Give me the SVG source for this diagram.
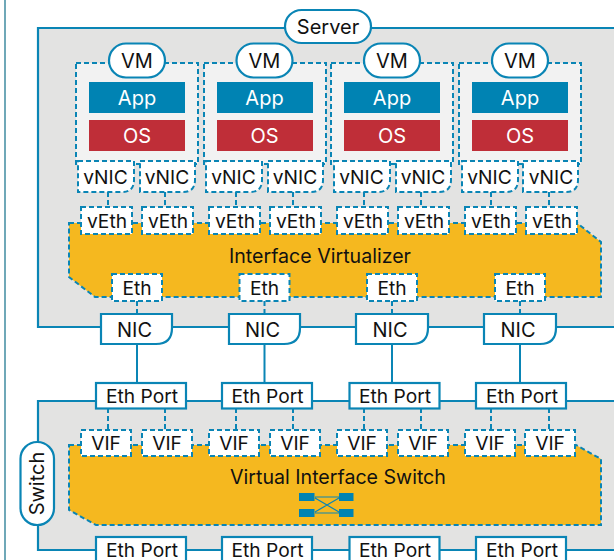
<svg xmlns="http://www.w3.org/2000/svg" width="614" height="560" viewBox="0 0 614 560">
<style>
text{font-family:"Inter","Liberation Sans",Arial,sans-serif;font-size:19.200px;fill:#111;text-anchor:middle}
.b{font-size:19.600px}
.m{font-size:20px}
.w{fill:#fff}
.s{fill:#fff;stroke:#0a85b5;stroke-width:2.200}
.p{fill:#e3e3e2;stroke:#0a85b5;stroke-width:2.200}
.d{fill:#fff;stroke:#0a85b5;stroke-width:2;stroke-dasharray:5 3}
.vm{fill:#f2f2f2;stroke:#0a85b5;stroke-width:2;stroke-dasharray:5 3}
.o{fill:#f5b81f;stroke:#0a85b5;stroke-width:2;stroke-dasharray:5 3}
.l{fill:none;stroke:#0a85b5;stroke-width:2}
.ld{fill:none;stroke:#0a85b5;stroke-width:2;stroke-dasharray:5 3}
.app{fill:#0083b3}.os{fill:#bf2e38}
</style>
<rect width="614" height="560" fill="#fff"/>
<path d="M5 0V560" fill="none" stroke="#6fa8b8" stroke-width="2"/>
<g id="server-frame"><path class="p" d="M616 28H38V327H616"/></g>
<g id="switch-frame"><path class="p" d="M616 401H38V550H616"/></g>
<g id="connectors">
<path class="l" d="M137 344V384M264.500 344V384M392 344V384M520 344V384"/>
<path class="ld" d="M108 192V207M165 192V207M236 192V207M293 192V207M364 192V207M421 192V207M491 192V207M549 192V207"/>
<path class="ld" d="M137 301V314M264.500 301V314M392 301V314M520 301V314"/>
<path class="ld" d="M108 408V430M165 408V430M236 408V430M293 408V430M364 408V430M421 408V430M491 408V430M549 408V430"/>
</g>
<g id="server"><rect class="s" x="285" y="10" width="86" height="33" rx="16.500"/><text class="m" x="328" y="33.500">Server</text></g>
<g id="vm1"><rect class="vm" x="76" y="63" width="122" height="101"/><rect class="s" x="109" y="43.500" width="56" height="34" rx="17"/><text class="m" x="137" y="67.500">VM</text><rect class="app" x="89" y="82" width="96" height="31"/><text class="w m" x="137" y="104.500">App</text><rect class="os" x="89" y="120" width="96" height="31"/><text class="w m" x="137" y="142.500">OS</text></g>
<g id="vm2"><rect class="vm" x="204" y="63" width="122" height="101"/><rect class="s" x="236.500" y="43.500" width="56" height="34" rx="17"/><text class="m" x="264.500" y="67.500">VM</text><rect class="app" x="217" y="82" width="96" height="31"/><text class="w m" x="264.500" y="104.500">App</text><rect class="os" x="217" y="120" width="96" height="31"/><text class="w m" x="264.500" y="142.500">OS</text></g>
<g id="vm3"><rect class="vm" x="331" y="63" width="122" height="101"/><rect class="s" x="364" y="43.500" width="56" height="34" rx="17"/><text class="m" x="392" y="67.500">VM</text><rect class="app" x="344" y="82" width="96" height="31"/><text class="w m" x="392" y="104.500">App</text><rect class="os" x="344" y="120" width="96" height="31"/><text class="w m" x="392" y="142.500">OS</text></g>
<g id="vm4"><rect class="vm" x="459" y="63" width="122" height="101"/><rect class="s" x="492" y="43.500" width="56" height="34" rx="17"/><text class="m" x="520" y="67.500">VM</text><rect class="app" x="472" y="82" width="96" height="31"/><text class="w m" x="520" y="104.500">App</text><rect class="os" x="472" y="120" width="96" height="31"/><text class="w m" x="520" y="142.500">OS</text></g>
<g id="vnics">
<path class="d" d="M78 161H134V180Q134 192 122 192H78Z"/><text x="105.500" y="183.500">vNIC</text>
<path class="d" d="M140 161H195V180Q195 192 183 192H140Z"/><text x="167" y="183.500">vNIC</text>
<path class="d" d="M206 161H262V180Q262 192 250 192H206Z"/><text x="233.500" y="183.500">vNIC</text>
<path class="d" d="M268 161H323V180Q323 192 311 192H268Z"/><text x="295" y="183.500">vNIC</text>
<path class="d" d="M334 161H390V180Q390 192 378 192H334Z"/><text x="361.500" y="183.500">vNIC</text>
<path class="d" d="M396 161H451V180Q451 192 439 192H396Z"/><text x="423" y="183.500">vNIC</text>
<path class="d" d="M462 161H518V180Q518 192 506 192H462Z"/><text x="489.500" y="183.500">vNIC</text>
<path class="d" d="M523 161H578V180Q578 192 566 192H523Z"/><text x="551" y="183.500">vNIC</text>
</g>
<g id="interface-virtualizer"><path class="o" d="M69 223H577L601 242V297H95L69 277Z"/><text class="b" x="320" y="262.500">Interface Virtualizer</text></g>
<g id="veths">
<rect class="d" x="81" y="207" width="51" height="27"/><text x="107" y="227.500">vEth</text>
<rect class="d" x="142" y="207" width="51" height="27"/><text x="168" y="227.500">vEth</text>
<rect class="d" x="209" y="207" width="51" height="27"/><text x="235" y="227.500">vEth</text>
<rect class="d" x="270" y="207" width="51" height="27"/><text x="296" y="227.500">vEth</text>
<rect class="d" x="337" y="207" width="51" height="27"/><text x="363" y="227.500">vEth</text>
<rect class="d" x="398" y="207" width="51" height="27"/><text x="424" y="227.500">vEth</text>
<rect class="d" x="465" y="207" width="51" height="27"/><text x="491" y="227.500">vEth</text>
<rect class="d" x="526" y="207" width="51" height="27"/><text x="552" y="227.500">vEth</text>
</g>
<g id="eths">
<rect class="d" x="112" y="274" width="50" height="27"/><text x="137" y="294.500">Eth</text>
<rect class="d" x="239.500" y="274" width="50" height="27"/><text x="264.500" y="294.500">Eth</text>
<rect class="d" x="367" y="274" width="50" height="27"/><text x="392" y="294.500">Eth</text>
<rect class="d" x="495" y="274" width="50" height="27"/><text x="520" y="294.500">Eth</text>
</g>
<g id="nics">
<path class="s" d="M101 314H172V328Q172 344 156 344H101Z"/><text class="m" x="134.500" y="336.500">NIC</text>
<path class="s" d="M229 314H300V328Q300 344 284 344H229Z"/><text class="m" x="262.500" y="336.500">NIC</text>
<path class="s" d="M356 314H428V328Q428 344 412 344H356Z"/><text class="m" x="390" y="336.500">NIC</text>
<path class="s" d="M484 314H556V328Q556 344 540 344H484Z"/><text class="m" x="518" y="336.500">NIC</text>
</g>
<g id="ports-top">
<rect class="s" x="96" y="383" width="90" height="25.500"/><text x="142" y="402.500">Eth Port</text>
<rect class="s" x="222" y="383" width="90" height="25.500"/><text x="267.500" y="402.500">Eth Port</text>
<rect class="s" x="349.500" y="383" width="90" height="25.500"/><text x="395" y="402.500">Eth Port</text>
<rect class="s" x="476" y="383" width="90" height="25.500"/><text x="522" y="402.500">Eth Port</text>
</g>
<g id="switch"><rect class="s" x="20.500" y="442" width="33.500" height="83" rx="16.700"/><text class="m" transform="translate(44 483.500) rotate(-90)">Switch</text></g>
<g id="virtual-interface-switch"><path class="o" d="M69 445H576L601 459V525H96L69 510Z"/><text class="b" x="338" y="483.500">Virtual Interface Switch</text>
<g id="switch-icon"><path d="M315 497H339M315 513H339M315 498L339 512M315 512L339 498" fill="none" stroke="#0a85b5" stroke-width="1.200"/><rect class="app" x="299" y="493" width="15.500" height="8"/><rect class="app" x="339" y="493" width="14.500" height="8"/><rect class="app" x="299" y="509" width="15.500" height="8"/><rect class="app" x="339" y="509" width="14.500" height="8"/></g></g>
<g id="vifs">
<rect class="d" x="81" y="430" width="50" height="26"/><text x="106" y="450">VIF</text>
<rect class="d" x="142" y="430" width="50" height="26"/><text x="167" y="450">VIF</text>
<rect class="d" x="209" y="430" width="50" height="26"/><text x="234" y="450">VIF</text>
<rect class="d" x="270" y="430" width="50" height="26"/><text x="295" y="450">VIF</text>
<rect class="d" x="337" y="430" width="50" height="26"/><text x="362" y="450">VIF</text>
<rect class="d" x="398" y="430" width="50" height="26"/><text x="423" y="450">VIF</text>
<rect class="d" x="465" y="430" width="50" height="26"/><text x="490" y="450">VIF</text>
<rect class="d" x="525" y="430" width="50" height="26"/><text x="550" y="450">VIF</text>
</g>
<g id="ports-bottom">
<rect class="s" x="96" y="537" width="90" height="30"/><text x="142" y="556.500">Eth Port</text>
<rect class="s" x="222" y="537" width="90" height="30"/><text x="267.500" y="556.500">Eth Port</text>
<rect class="s" x="349.500" y="537" width="90" height="30"/><text x="395" y="556.500">Eth Port</text>
<rect class="s" x="476" y="537" width="90" height="30"/><text x="522" y="556.500">Eth Port</text>
</g>
</svg>
